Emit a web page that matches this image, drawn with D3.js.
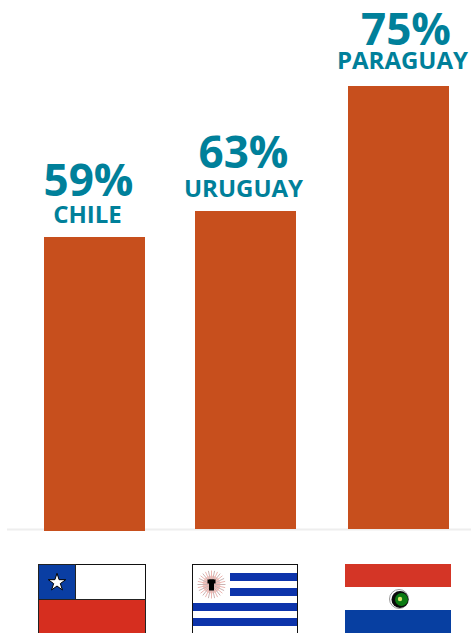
<!DOCTYPE html>
<html><head><meta charset="utf-8">
<script src="https://cdn.jsdelivr.net/npm/d3@7"></script>
<style>html,body{margin:0;padding:0;background:#fff;overflow:hidden}svg{display:block}text{font-family:"Open Sans",sans-serif;font-weight:700;text-anchor:middle}</style>
</head><body><svg id="c" width="471" height="633"></svg>
<script>
const countries = ["CHILE","URUGUAY","PARAGUAY"];
const values = [59,63,75];
const W=471,H=633,teal="#00809a",orange="#c74f1d";
const svg=d3.select("#c");
// The source's bars are not proportional to their values, so the scale is piecewise.
const y=d3.scaleLinear().domain([59,63,75]).range([237,211,86]);
const x=d3.scaleOrdinal().domain(countries).range([44,195,348]);
const barW=101, base=529, overshoot={CHILE:2,URUGUAY:0,PARAGUAY:0};
const pctX={CHILE:88.5,URUGUAY:243.5,PARAGUAY:406}, nameX={CHILE:87.5,URUGUAY:243.5,PARAGUAY:402.5};
const pctOff={CHILE:41,URUGUAY:43,PARAGUAY:41}, nameOff={CHILE:14.5,URUGUAY:14.5,PARAGUAY:17.5};

svg.append("line").attr("x1",7).attr("x2",471).attr("y1",529.5).attr("y2",529.5).attr("stroke","#eeeeee").attr("stroke-width",2);

const g=svg.selectAll("g.b").data(countries.map((c,i)=>({c,v:values[i]}))).join("g").attr("class","b");
g.append("rect").attr("x",d=>x(d.c)).attr("y",d=>y(d.v)).attr("width",barW)
 .attr("height",d=>base-y(d.v)+overshoot[d.c]).attr("fill",orange);
g.append("text").attr("x",d=>pctX[d.c]).attr("y",d=>y(d.v)-pctOff[d.c]).attr("font-size",44).attr("fill",teal).text(d=>d.v+"%");
g.append("text").attr("x",d=>nameX[d.c]).attr("y",d=>y(d.v)-nameOff[d.c]).attr("font-size",24).attr("fill",teal).text(d=>d.c);

// Chile flag
const cl=svg.append("g").attr("transform","translate(38.5,564.5)");
cl.append("rect").attr("width",107).attr("height",80).attr("fill","#fff").attr("stroke","#111");
cl.append("rect").attr("y",35).attr("width",107).attr("height",45).attr("fill","#d62e1f").attr("stroke","#222");
cl.append("rect").attr("width",37).attr("height",35).attr("fill","#0a3ea3").attr("stroke","#222");
cl.append("path").attr("transform","translate(18.5,18)").attr("d",d3.symbol(d3.symbolStar,95)).attr("fill","#fff").attr("stroke","#000").attr("stroke-width",1);

// Uruguay flag
const uy=svg.append("g").attr("transform","translate(192.5,564.5)");
uy.append("rect").attr("width",105).attr("height",80).attr("fill","#fff").attr("stroke","#111");
[[37,8.5],[37,23.5],[0,38.5],[0,53.5]].forEach(([sx,yy])=>uy.append("rect").attr("x",sx+0.5).attr("y",yy).attr("width",104-sx).attr("height",8).attr("fill","#0d34ab"));
const sun=uy.append("g").attr("transform","translate(19,20)");
sun.append("circle").attr("r",9).attr("fill","#f3c9c4");
d3.range(28).forEach(i=>{const a=i/28*2*Math.PI;sun.append("line").attr("x1",0).attr("y1",0).attr("x2",14*Math.cos(a)).attr("y2",14*Math.sin(a)).attr("stroke",i%2?"#ecb5b0":"#c9b3b3").attr("stroke-width",1);});
sun.append("rect").attr("x",-2.5).attr("y",-5).attr("width",5).attr("height",11).attr("fill","#000");
sun.append("rect").attr("x",-4).attr("y",-5).attr("width",8).attr("height",4).attr("fill","#000");

// Paraguay flag
const py=svg.append("g").attr("transform","translate(345,564)");
[["#d43526",0],["#fff",23],["#073fa1",46]].forEach(([c,yy])=>py.append("rect").attr("y",yy).attr("width",106).attr("height",23).attr("fill",c));
py.append("circle").attr("cx",54).attr("cy",35).attr("r",9.5).attr("fill","#fff").attr("stroke","#999").attr("stroke-width",1);
py.append("circle").attr("cx",55).attr("cy",35.5).attr("r",8.5).attr("fill","#0a0a0a");
py.append("circle").attr("cx",56.5).attr("cy",35.5).attr("r",6.5).attr("fill","#0b7a12");
py.append("circle").attr("cx",55).attr("cy",35).attr("r",2.2).attr("fill","#d9e36a");
</script></body></html>
